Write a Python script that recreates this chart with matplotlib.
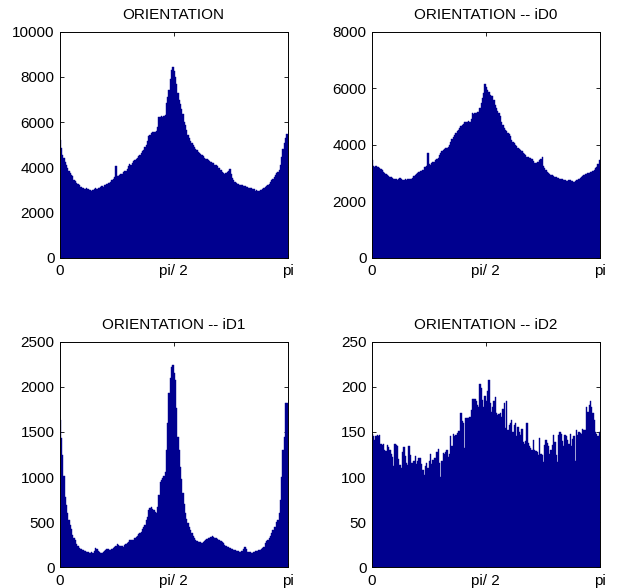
import numpy as np
import matplotlib
matplotlib.use("Agg")
import matplotlib.pyplot as plt

plt.rcParams['font.family'] = ['Liberation Sans', 'DejaVu Sans']

titles = ["ORIENTATION", "ORIENTATION -- iD0", "ORIENTATION -- iD1", "ORIENTATION -- iD2"]
xtick_labels = ["0", "pi/ 2", "pi"]

counts_all = [
    5200, 4850, 4550, 4400, 4250, 4100, 3980, 3850, 3760, 3680,
    3600, 3450, 3380, 3320, 3260, 3200, 3150, 3130, 3100, 3060,
    3050, 3080, 3020, 2990, 3010, 2970, 3000, 3040, 3080, 3060,
    3100, 3070, 3120, 3180, 3150, 3200, 3230, 3260, 3300, 3320,
    3350, 3420, 3480, 3560, 4060, 3620, 3600, 3660, 3700, 3690,
    3780, 3850, 3820, 3930, 4050, 4150, 4100, 4200, 4300, 4320,
    4350, 4420, 4500, 4540, 4620, 4700, 4780, 4880, 5000, 5150,
    5380, 5450, 5520, 5570, 5540, 5580, 5620, 5800, 6240, 6230,
    6250, 6220, 6270, 6300, 6830, 7100, 7420, 7900, 8300, 8420,
    8250, 8000, 7700, 7270, 7000, 6800, 6600, 6350, 6000, 5850,
    5650, 5430, 5300, 5150, 5060, 4980, 4880, 4820, 4750, 4680,
    4620, 4580, 4530, 4480, 4420, 4380, 4350, 4320, 4300, 4250,
    4200, 4180, 4120, 4100, 4050, 3980, 3950, 3900, 3780, 3730,
    3720, 3760, 3780, 3850, 3910, 3700, 3510, 3450, 3350, 3290,
    3270, 3250, 3230, 3215, 3200, 3180, 3160, 3140, 3120, 3100,
    3090, 3070, 3050, 3020, 2960, 2980, 2950, 2970, 2990, 3000,
    3050, 3080, 3140, 3180, 3220, 3280, 3360, 3420, 3500, 3580,
    3660, 3750, 3800, 3880, 4100, 4470, 4800, 5060, 5300, 5470,
]

counts_id0 = [
    3460, 3250, 3220, 3230, 3200, 3210, 3180, 3150, 3100, 3050,
    3000, 2950, 2920, 2900, 2860, 2840, 2820, 2800, 2790, 2780,
    2760, 2790, 2810, 2780, 2760, 2750, 2770, 2760, 2780, 2790,
    2800, 2790, 2820, 2880, 2930, 2960, 3010, 3030, 3060, 3080,
    3120, 3200, 3220, 3250, 3720, 3300, 3280, 3350, 3380, 3400,
    3450, 3490, 3530, 3640, 3700, 3760, 3820, 3850, 3870, 3880,
    3920, 3990, 4100, 4200, 4270, 4340, 4410, 4480, 4530, 4580,
    4650, 4700, 4740, 4790, 4820, 4810, 4830, 4820, 4900, 5120,
    5100, 5110, 5120, 5140, 5170, 5300, 5470, 5650, 5820, 6160,
    6050, 5940, 5850, 5770, 5740, 5710, 5600, 5410, 5300, 5200,
    5120, 5000, 4800, 4700, 4580, 4530, 4480, 4420, 4380, 4300,
    4170, 4100, 4050, 3990, 3950, 3880, 3850, 3800, 3760, 3700,
    3660, 3620, 3580, 3560, 3540, 3520, 3500, 3420, 3340, 3360,
    3380, 3400, 3450, 3500, 3580, 3250, 3170, 3100, 3050, 2990,
    2960, 2930, 2910, 2880, 2860, 2850, 2830, 2820, 2800, 2790,
    2780, 2760, 2740, 2730, 2720, 2740, 2750, 2720, 2700, 2690,
    2720, 2750, 2760, 2800, 2810, 2850, 2900, 2940, 2950, 2980,
    3000, 3010, 3020, 3050, 3080, 3120, 3160, 3200, 3300, 3460,
]

counts_id1 = [
    1630, 1430, 1250, 1010, 780, 690, 600, 520, 470, 420,
    360, 320, 300, 260, 240, 215, 205, 200, 192, 185,
    178, 174, 170, 163, 160, 165, 160, 180, 210, 200,
    185, 170, 155, 160, 172, 185, 190, 198, 200, 195,
    192, 200, 215, 229, 240, 255, 248, 240, 236, 232,
    229, 245, 260, 273, 285, 300, 303, 300, 303, 320,
    335, 350, 365, 380, 395, 420, 450, 470, 520, 560,
    640, 660, 672, 650, 635, 610, 598, 672, 800, 950,
    970, 986, 1010, 1060, 1300, 1596, 1928, 2100, 2224, 2242,
    2150, 2076, 1762, 1448, 1300, 1116, 980, 820, 700, 598,
    540, 488, 450, 410, 377, 350, 320, 303, 295, 284,
    280, 275, 273, 280, 292, 300, 315, 321, 330, 340,
    347, 340, 330, 321, 315, 305, 300, 290, 275, 266,
    250, 235, 229, 220, 210, 205, 200, 195, 190, 181,
    178, 176, 174, 180, 185, 200, 222, 200, 174, 168,
    165, 163, 160, 170, 181, 185, 183, 188, 192, 200,
    210, 230, 266, 290, 300, 321, 350, 377, 410, 450,
    450, 500, 524, 600, 746, 1000, 1300, 1448, 1818, 1818,
]

counts_id2 = [
    148, 146, 141, 145, 147, 146, 147, 137, 135, 137,
    130, 129, 136, 133, 130, 126, 122, 112, 137, 135,
    134, 120, 113, 110, 128, 133, 123, 116, 113, 134,
    125, 116, 116, 118, 123, 115, 118, 121, 121, 115,
    108, 102, 112, 116, 110, 118, 126, 115, 119, 121,
    121, 128, 131, 116, 100, 118, 127, 126, 128, 130,
    122, 126, 145, 134, 148, 146, 147, 149, 151, 151,
    171, 162, 160, 132, 165, 166, 166, 167, 174, 186,
    186, 186, 184, 180, 178, 203, 199, 185, 178, 190,
    184, 195, 208, 182, 172, 178, 184, 189, 171, 169,
    170, 171, 167, 175, 182, 154, 184, 152, 158, 160,
    163, 150, 158, 160, 145, 155, 150, 147, 153, 139,
    137, 140, 160, 138, 134, 132, 130, 141, 130, 129,
    128, 124, 143, 126, 124, 117, 136, 141, 138, 134,
    126, 130, 136, 147, 139, 125, 117, 147, 150, 148,
    140, 134, 147, 145, 141, 137, 148, 134, 142, 145,
    118, 152, 147, 150, 149, 148, 153, 152, 152, 178,
    172, 180, 184, 178, 171, 163, 150, 148, 145, 150,
]

series = [counts_all, counts_id0, counts_id1, counts_id2]
ymaxes = [10000, 8000, 2500, 250]
ysteps = [2000, 2000, 500, 50]

W, H = 618, 588
fig = plt.figure(figsize=(W / 100, H / 100), dpi=100)
boxes = [
    (59.5, 31.7, 287.5, 257.7),
    (371.5, 31.7, 600.0, 257.7),
    (59.5, 341.7, 287.5, 567.3),
    (371.5, 341.7, 600.0, 567.3),
]
color = '#00008F'

for k in range(4):
    x0, y0, x1, y1 = boxes[k]
    ax = fig.add_axes([x0 / W, 1 - y1 / H, (x1 - x0) / W, (y1 - y0) / H])
    ax.set_axisbelow(True)
    vals = np.array(series[k], dtype=float)
    n = len(vals)
    edges = np.linspace(0, np.pi, n + 1)
    ax.bar(edges[:-1], vals, width=np.pi / n, align='edge', color=color,
           edgecolor=color, linewidth=0.3)
    ax.set_xlim(0, np.pi)
    ax.set_ylim(0, ymaxes[k])
    ax.set_xticks([0, np.pi / 2, np.pi])
    ax.set_xticklabels(xtick_labels)
    ax.set_yticks(np.arange(0, ymaxes[k] + 1, ysteps[k]))
    ax.tick_params(direction='in', length=3, width=0.6, top=True, right=True,
                   labelsize=11, colors='black')
    ax.tick_params(axis='x', pad=4.5)
    ax.tick_params(axis='y', pad=3.5)
    for s in ax.spines.values():
        s.set_linewidth(0.7)
        s.set_color('black')
    ax.set_title(titles[k], fontsize=11, pad=9.5)

fig.savefig('out.png', dpi=100)
